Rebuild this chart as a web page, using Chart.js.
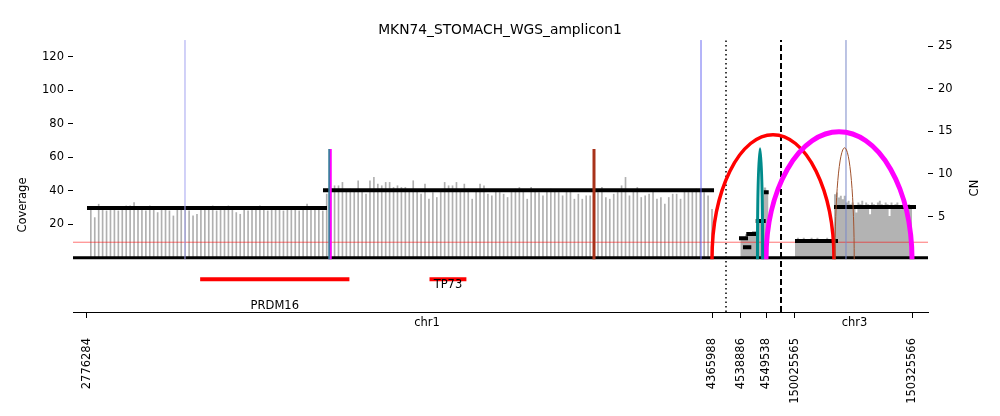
<!DOCTYPE html>
<html>
<head>
<meta charset="utf-8">
<script src="https://cdn.jsdelivr.net/npm/chart.js@4.4.1/dist/chart.umd.min.js"></script>
<style>
  html, body { margin: 0; padding: 0; background: #fff; }
  #wrap { width: 1000px; height: 416px; }
</style>
</head>
<body>
<div id="wrap"><canvas id="ampliconChart"></canvas></div>
<script>
// Intervals shown one after another on the x axis
const intervalChr = ['chr1', 'chr1', 'chr3'];
const intervalStart = [2740675, 4532496, 149989669];
const intervalEnd = [4401581, 4555928, 150366590];

// Labelled positions on the x axis
const tickChr = ['chr1', 'chr1', 'chr1', 'chr1', 'chr3', 'chr3'];
const tickPos = [2776284, 4365988, 4538886, 4549538, 150025565, 150325566];
const tickLabels = ['2776284', '4365988', '4538886', '4549538', '150025565', '150325566'];

// Coverage in 10 kb windows, first chr1 interval
const covBinStart = 2786000;
const covBinSize = 10000;
const coverageChr1 = [
  29, 24, 32, 29, 28, 30, 29, 28, 29, 31, 31, 33, 29, 30, 28, 31, 29, 27, 29, 30,
  28, 25, 29, 30, 29, 28, 25, 26, 29, 30, 29, 31, 28, 29, 30, 31, 29, 27, 26, 29, 28,
  29, 30, 31, 29, 28, 30, 29, 29, 28, 30, 29, 29, 28, 30, 32, 29, 30, 29, 28, 38,
  40, 43, 43, 45, 40, 41, 40, 46, 40, 38, 46, 48, 44, 43, 45, 45, 42, 43, 42, 42,
  40, 46, 40, 38, 44, 35, 39, 36, 40, 45, 43, 43, 45, 40, 44, 41, 35, 40, 44, 43,
  38, 37, 40, 39, 38, 36, 40, 41, 42, 40, 35, 42, 40, 39, 37, 40, 41, 40, 39, 37, 40,
  40, 35, 38, 35, 37, 37, 40, 39, 42, 36, 35, 38, 39, 43, 48, 37, 40, 42, 36, 37,
  38, 40, 35, 36, 32, 36, 38, 38, 35, 40, 39, 40, 41, 40, 39, 37, 29
];

// Coverage in 1 kb windows, second chr1 interval
const fineBinStart = 4538600;
const fineBinSize = 1000;
const coverageChr1b = [12, 12, 14, 15, 15, 16, 16, 21, 22, 38, 42, 40];

// Coverage in 5 kb windows, chr3 interval
const chr3BinStart = 150025565;
const chr3BinSize = 5000;
const coverageChr3 = [
  11, 12, 11, 11, 12, 11, 10, 11, 12, 11, 11, 12, 11, 11, 10, 11, 12, 11, 11, 10,
  38, 39, 36, 37, 35, 37, 33, 34, 32, 33, 31, 27, 33, 32, 34, 31, 33, 32, 26, 33,
  32, 31, 33, 34, 32, 30, 33, 32, 25, 33, 31, 32, 33, 31, 29, 32, 33, 31, 32, 30
];

// Copy number segments
const segChr = ['chr1', 'chr1', 'chr1', 'chr1', 'chr1', 'chr1', 'chr1', 'chr3', 'chr3'];
const segStart = [2776284, 3376550, 4538034, 4539738, 4541144, 4545148, 4548556, 150025565, 150125561];
const segEnd = [3386724, 4371108, 4541868, 4543274, 4545702, 4549408, 4550686, 150135817, 150335809];
const segCN = [6.0, 8.1, 2.46, 1.41, 2.96, 4.49, 7.85, 2.14, 6.13];

// Breakpoint edges drawn as arcs (CN height at the top)
const arcChrA = ['chr1', 'chr1', 'chr1', 'chr3'];
const arcPosA = [4365988, 4549538, 4545900, 150128125];
const arcChrB = ['chr3', 'chr3', 'chr1', 'chr3'];
const arcPosB = [150125561, 150325566, 4548100, 150177402];
const arcCN = [14.6, 14.94, 12.95, 13.07];

// Breakpoint edges drawn as vertical lines (null = full height)
const vChr = ['chr1', 'chr1', 'chr1', 'chr1', 'chr1', 'chr3'];
const vPos = [3025547, 3392000, 3395000, 4065838, 4338000, 150156329];
const vCN = [null, 12.93, 12.93, 12.93, null, null];

// Genes
const geneName = ['PRDM16', 'TP73'];
const geneChr = ['chr1', 'chr1'];
const geneStart = [3069168, 3652516];
const geneEnd = [3438621, 3736201];

const covTicks = [20, 40, 60, 80, 100, 120];
const cnTicks = [5, 10, 15, 20, 25];
const normalCN = 2;

// ---- layout / style ----
const intervalWidth = [653, 55, 147];
const totalWidth = intervalWidth.reduce((a, b) => a + b, 0);
const covMin = -32.3, covMax = 129.9;
const cnMin = -6.18, cnMax = 25.7;
const geneTrackLevel = -12.8;
const geneLabelLevel = [-28.6, -16.2];
const arcColor = ['#ff0000', '#ff00ff', '#008b8b', '#a0522d'];
const arcWidth = [3.5, 5, 3, 1];
const vColor = ['#a3a3f0', '#1f8f8f', '#ff00ff', '#a8321a', '#6b6bf2', '#7a88c8'];
const vWidth = [1, 1.5, 3, 3, 1, 1];
const FONT = '"DejaVu Sans", sans-serif';

// genomic position -> x axis units
function toX(chr, pos) {
    let offset = 0;
    for (let i = 0; i < intervalChr.length; i++) {
        if (chr === intervalChr[i] && pos >= intervalStart[i] && pos <= intervalEnd[i]) {
            return offset + (pos - intervalStart[i]) / (intervalEnd[i] - intervalStart[i]) * intervalWidth[i];
        }
        offset += intervalWidth[i];
    }
    return null;
}

function steppedPoints(chr, start, size, values) {
    const pts = values.map((v, i) => ({ x: toX(chr, start + i * size), y: v }));
    pts.push({ x: toX(chr, start + values.length * size), y: values[values.length - 1] });
    return pts;
}

const datasets = [];

datasets.push({
    type: 'bar',
    data: coverageChr1.map((v, i) => ({ x: toX('chr1', covBinStart + i * covBinSize), y: v })),
    backgroundColor: '#b0b0b0',
    barThickness: 1,
    yAxisID: 'y',
    order: 20
});

[['chr1', fineBinStart, fineBinSize, coverageChr1b], ['chr3', chr3BinStart, chr3BinSize, coverageChr3]].forEach(function (c) {
    datasets.push({
        type: 'line',
        data: steppedPoints(c[0], c[1], c[2], c[3]),
        stepped: true,
        fill: 'origin',
        backgroundColor: '#b3b3b3',
        borderWidth: 0,
        pointRadius: 0,
        yAxisID: 'y',
        order: 20
    });
});

// CN = 2 reference line
datasets.push({
    type: 'line',
    data: [{ x: 0, y: normalCN }, { x: totalWidth, y: normalCN }],
    borderColor: 'rgba(255, 0, 0, 0.55)',
    borderWidth: 1,
    pointRadius: 0,
    yAxisID: 'cn',
    order: 15
});

// genes
geneName.forEach(function (g, i) {
    datasets.push({
        type: 'line',
        data: [{ x: toX(geneChr[i], geneStart[i]), y: geneTrackLevel }, { x: toX(geneChr[i], geneEnd[i]), y: geneTrackLevel }],
        borderColor: '#ff0000',
        borderWidth: 4,
        borderCapStyle: 'square',
        pointRadius: 0,
        yAxisID: 'y',
        order: 10
    });
});

// CN segments
const segPoints = [];
segCN.forEach(function (cn, i) {
    segPoints.push({ x: toX(segChr[i], segStart[i]), y: cn });
    segPoints.push({ x: toX(segChr[i], segEnd[i]), y: cn });
    segPoints.push({ x: toX(segChr[i], segEnd[i]), y: null });
});
datasets.push({
    type: 'line',
    data: segPoints,
    borderColor: '#000',
    borderWidth: 4,
    borderCapStyle: 'butt',
    pointRadius: 0,
    spanGaps: false,
    yAxisID: 'cn',
    order: 8
});

// baseline
datasets.push({
    type: 'line',
    data: [{ x: 0, y: 0 }, { x: totalWidth, y: 0 }],
    borderColor: '#000',
    borderWidth: 3,
    pointRadius: 0,
    yAxisID: 'y',
    order: 7
});

// vertical edges
vPos.forEach(function (p, i) {
    const x = toX(vChr[i], p);
    datasets.push({
        type: 'line',
        data: [{ x: x, y: 0 }, { x: x, y: vCN[i] === null ? cnMax : vCN[i] }],
        borderColor: vColor[i],
        borderWidth: vWidth[i],
        borderCapStyle: 'butt',
        pointRadius: 0,
        yAxisID: 'cn',
        order: 5
    });
});

// interval boundaries: dotted inside a chromosome, dashed between chromosomes
let off = 0;
for (let i = 1; i < intervalChr.length; i++) {
    off += intervalWidth[i - 1];
    const sameChr = intervalChr[i] === intervalChr[i - 1];
    datasets.push({
        type: 'line',
        data: [{ x: off, y: covMin }, { x: off, y: covMax }],
        borderColor: '#000',
        borderWidth: sameChr ? 1.5 : 2,
        borderDash: sameChr ? [1.5, 3] : [6, 3],
        pointRadius: 0,
        yAxisID: 'y',
        order: 3
    });
}

const extraDrawing = {
    id: 'extraDrawing',
    afterDatasetsDraw(chart) {
        const { ctx, chartArea, scales } = chart;
        const xs = scales.x, cov = scales.y, cn = scales.cn;
        ctx.save();
        // arcs
        arcCN.forEach(function (h, i) {
            const xa = xs.getPixelForValue(toX(arcChrA[i], arcPosA[i]));
            const xb = xs.getPixelForValue(toX(arcChrB[i], arcPosB[i]));
            const y0 = cn.getPixelForValue(0);
            const yTop = cn.getPixelForValue(h);
            ctx.beginPath();
            ctx.ellipse((xa + xb) / 2, y0, Math.abs(xb - xa) / 2, y0 - yTop, 0, Math.PI, 2 * Math.PI);
            ctx.strokeStyle = arcColor[i];
            ctx.lineWidth = arcWidth[i];
            ctx.stroke();
        });
        ctx.fillStyle = '#000';
        ctx.font = '11.5px ' + FONT;
        ctx.textAlign = 'center';
        ctx.textBaseline = 'middle';
        // gene names
        geneName.forEach(function (g, i) {
            const xm = xs.getPixelForValue((toX(geneChr[i], geneStart[i]) + toX(geneChr[i], geneEnd[i])) / 2);
            ctx.fillText(g, xm, cov.getPixelForValue(geneLabelLevel[i]));
        });
        // chromosome names under the axis
        let o = 0;
        const spans = {};
        intervalChr.forEach(function (c, i) {
            if (!spans[c]) spans[c] = [o, o];
            o += intervalWidth[i];
            spans[c][1] = o;
        });
        Object.keys(spans).forEach(function (c) {
            const xm = xs.getPixelForValue((spans[c][0] + spans[c][1]) / 2);
            ctx.fillText(c, xm, chartArea.bottom + 11);
        });
        // axis titles
        ctx.translate(chartArea.left - 50, chartArea.top + 165);
        ctx.rotate(-Math.PI / 2);
        ctx.fillText('Coverage', 0, 0);
        ctx.setTransform(1, 0, 0, 1, 0, 0);
        ctx.translate(chartArea.right + 47, chartArea.top + 148);
        ctx.rotate(-Math.PI / 2);
        ctx.fillText('CN', 0, 0);
        ctx.restore();
    }
};

const tickFont = { family: FONT, size: 11.5 };

new Chart(document.getElementById('ampliconChart').getContext('2d'), {
    data: { datasets: datasets },
    options: {
        responsive: true,
        maintainAspectRatio: false,
        animation: false,
        events: [],
        layout: { padding: 0 },
        plugins: {
            legend: { display: false },
            tooltip: { enabled: false },
            title: {
                display: true,
                text: 'MKN74_STOMACH_WGS_amplicon1',
                color: '#000',
                font: { family: FONT, size: 13.8, weight: 'normal' },
                padding: { top: 22, bottom: 1.5 }
            }
        },
        scales: {
            x: {
                type: 'linear',
                min: 0,
                max: totalWidth,
                offset: false,
                border: { display: true, color: '#000', width: 1 },
                grid: { offset: false, drawOnChartArea: false, drawTicks: true, tickLength: 6, tickColor: '#000' },
                afterBuildTicks: function (s) {
                    s.ticks = tickPos.map((p, i) => ({ value: toX(tickChr[i], p) }));
                },
                ticks: {
                    autoSkip: false,
                    minRotation: 90,
                    maxRotation: 90,
                    padding: 20,
                    color: '#000',
                    font: tickFont,
                    callback: (v, i) => tickLabels[i]
                },
                afterFit: function (s) { s.height = 104; }
            },
            y: {
                type: 'linear',
                position: 'left',
                min: covMin,
                max: covMax,
                border: { display: false },
                grid: { drawOnChartArea: false, drawTicks: true, tickLength: 5, tickColor: '#000' },
                afterBuildTicks: function (s) { s.ticks = covTicks.map(v => ({ value: v })); },
                ticks: { padding: 4, color: '#000', font: tickFont },
                afterFit: function (s) { s.width = 73; }
            },
            cn: {
                type: 'linear',
                position: 'right',
                min: cnMin,
                max: cnMax,
                border: { display: false },
                grid: { drawOnChartArea: false, drawTicks: true, tickLength: 5, tickColor: '#000' },
                afterBuildTicks: function (s) { s.ticks = cnTicks.map(v => ({ value: v })); },
                ticks: { padding: 5, color: '#000', font: tickFont },
                afterFit: function (s) { s.width = 72; }
            }
        }
    },
    plugins: [extraDrawing]
});
</script>
</body>
</html>
